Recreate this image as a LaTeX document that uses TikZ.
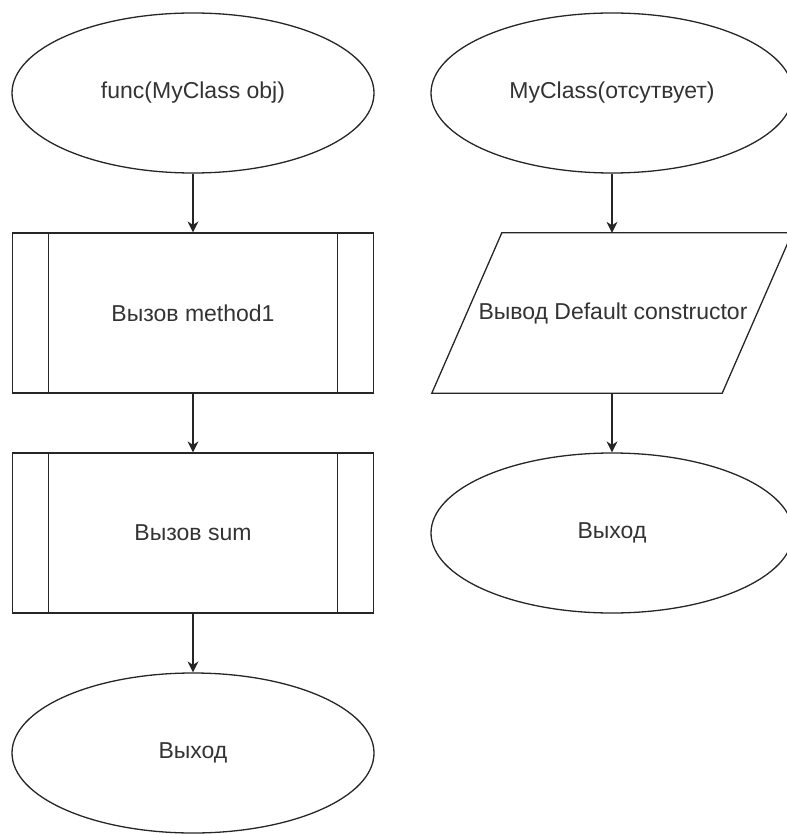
\documentclass[tikz,border=0pt]{standalone}
\usepackage{fontspec}
\setmainfont{Liberation Sans}
\usetikzlibrary{shapes.geometric}

\tikzset{
  every node/.style={font=\fontsize{23}{27}\selectfont, text=black!80},
  outline/.style={line width=1.3pt, draw=black!85},
  terminal/.style={ellipse, outline, minimum width=362pt, minimum height=160pt, inner sep=0pt},
  subproc/.style={rectangle, outline, minimum width=361pt, minimum height=160pt, inner sep=0pt,
    path picture={
      \draw[outline] ([xshift=36pt]path picture bounding box.north west) -- ([xshift=36pt]path picture bounding box.south west);
      \draw[outline] ([xshift=-36pt]path picture bounding box.north east) -- ([xshift=-36pt]path picture bounding box.south east);
    }},
  iobox/.style={rectangle, minimum width=360pt, minimum height=160pt, inner sep=0pt},
  flow/.style={draw=black!85, line width=1.3pt, shorten >=4pt},
  % block arrow head with a small notch, apex at the pic origin, pointing down
  headtip/.pic={\fill[black!85] (0pt,0pt) -- (-5.5pt,11pt) -- (0pt,7.5pt) -- (5.5pt,11pt) -- cycle;}
}

\begin{document}
\begin{tikzpicture}
  \useasboundingbox (0pt,0pt) rectangle (786pt,-834pt);

  % left column: func(MyClass obj)
  \node[terminal] (fstart) at (193pt,-93pt) {func(MyClass obj)};
  \node[subproc]  (call1)  at (193pt,-313pt) {Вызов method1};
  \node[subproc]  (call2)  at (193pt,-533pt) {Вызов sum};
  \node[terminal] (fend)   at (193pt,-753pt) {Выход};

  % right column: MyClass default constructor
  \node[terminal] (cstart) at (612pt,-93pt) {MyClass(отсутвует)};
  \node[iobox]    (out)    at (612pt,-313pt) {};
  \draw[outline] (out.south west) -- ([xshift=-70pt]out.south east) -- (out.north east)
              -- ([xshift=70pt]out.north west) -- cycle;
  \node at (613pt,-313pt) {Вывод Default constructor};
  \node[terminal] (cend)   at (612pt,-533pt) {Выход};

  % connectors
  \draw[flow] (fstart) -- (call1);  \pic at (call1.north) {headtip};
  \draw[flow] (call1) -- (call2);   \pic at (call2.north) {headtip};
  \draw[flow] (call2) -- (fend);    \pic at (fend.north)  {headtip};
  \draw[flow] (cstart) -- (out);    \pic at (out.north)   {headtip};
  \draw[flow] (out) -- (cend);      \pic at (cend.north)  {headtip};
\end{tikzpicture}
\end{document}
